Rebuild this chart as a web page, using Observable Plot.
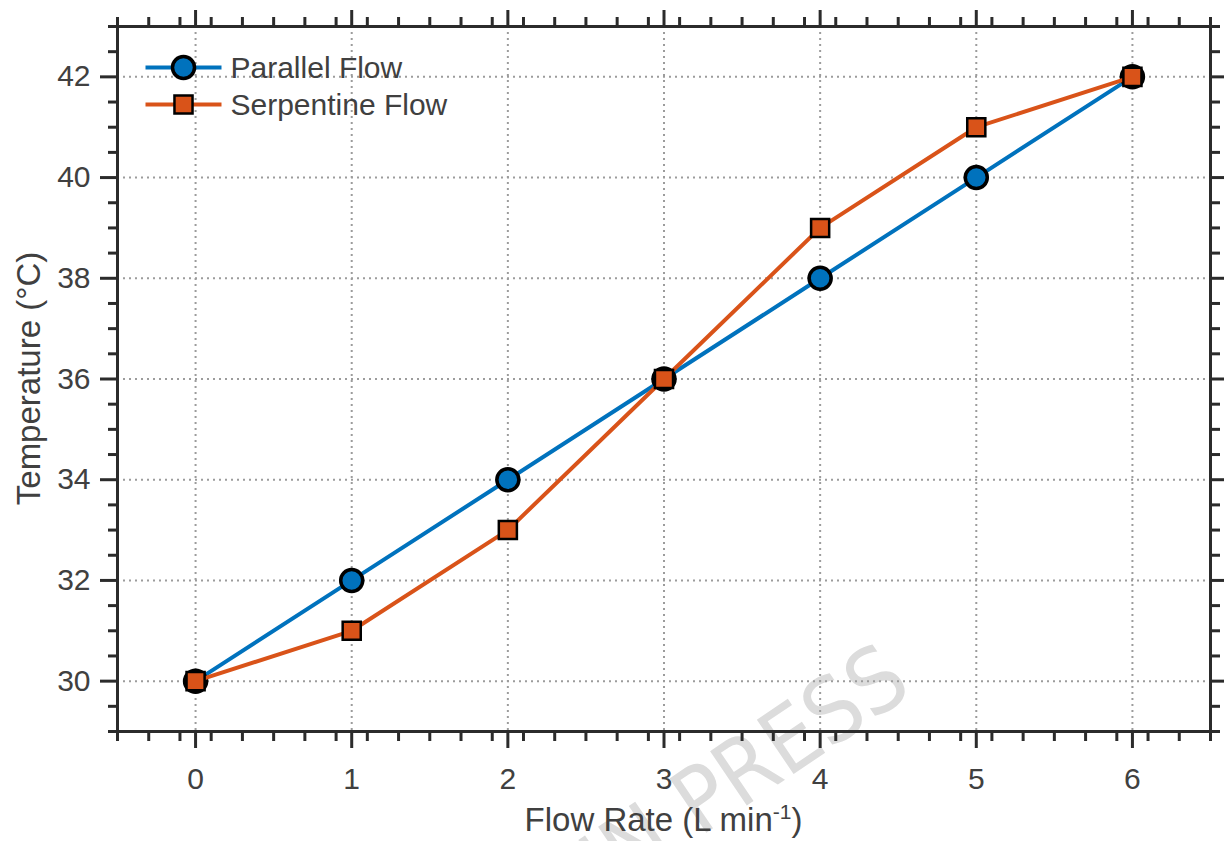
<!DOCTYPE html>
<html><head><meta charset="utf-8">
<script src="https://cdn.jsdelivr.net/npm/d3@7"></script>
<script src="https://cdn.jsdelivr.net/npm/@observablehq/plot@0.6"></script>
<style>body{margin:0;background:#fff;} #chart svg{display:block;}</style>
</head><body><div id="chart"></div>
<script>
// ---- data ----
const flowRate = [0, 1, 2, 3, 4, 5, 6];
const parallelFlow = [30, 32, 34, 36, 38, 40, 42];
const serpentineFlow = [30, 31, 33, 36, 39, 41, 42];
const seriesNames = ["Parallel Flow", "Serpentine Flow"];
const seriesColors = ["#0072BD", "#D95319"];
const seriesSymbols = ["circle", "square"];
const xTickValues = [0, 1, 2, 3, 4, 5, 6];
const yTickValues = [30, 32, 34, 36, 38, 40, 42];
const xLabelMain = "Flow Rate (L min";
const xLabelSup = "-1";
const xLabelEnd = ")";
const yLabel = "Temperature (°C)";
const watermarkText = "IN PRESS";

// minor ticks
const xMinor = d3.range(-5, 66, 2).map(d => d / 10).filter(d => Math.abs(d - Math.round(d)) > 1e-6);
const yMinor = d3.range(58, 87).map(d => d / 2).filter(d => d % 2 !== 0);

const FONT = "'Liberation Sans', Arial, sans-serif";
const INK = "#2b2b2b";
const TXT = "#404040";

const seriesData = [parallelFlow, serpentineFlow].map(vals => flowRate.map((x, i) => ({x, y: vals[i]})));

const lineSymbol = {draw(ctx) { ctx.moveTo(-38, 0); ctx.lineTo(38, 0); }};

const blank = () => "";
const intFmt = d => String(d);
const tickStyle = {stroke: INK, strokeWidth: 3, label: null};
const markerR = [11, 10.2];
const markerSW = [3.5, 2.5];

const marks = [
  Plot.text([watermarkText], {text: d => d, frameAnchor: "top-left", dx: 781, dy: 642, rotate: -34,
    textAnchor: "end", lineAnchor: "middle", fontSize: 90, fill: "#dcdcdc",
    fontFamily: "'Liberation Sans Narrow', 'DejaVu Sans Condensed', 'Liberation Sans', sans-serif"}),
  Plot.gridX(xTickValues, {stroke: "#9c9c9c", strokeOpacity: 1, strokeWidth: 2, strokeDasharray: "2,4"}),
  Plot.gridY(yTickValues, {stroke: "#9c9c9c", strokeOpacity: 1, strokeWidth: 2, strokeDasharray: "2,4"}),
  Plot.axisX(xTickValues, {anchor: "bottom", tickSize: 17, tickPadding: 19, tickFormat: intFmt, fontSize: 30, fill: TXT, ...tickStyle}),
  Plot.axisX(xMinor, {anchor: "bottom", tickSize: 10, tickFormat: blank, ...tickStyle}),
  Plot.axisX(xTickValues, {anchor: "top", tickSize: 17, tickFormat: blank, ...tickStyle}),
  Plot.axisX(xMinor, {anchor: "top", tickSize: 10, tickFormat: blank, ...tickStyle}),
  Plot.axisY(yTickValues, {anchor: "left", tickSize: 17, tickPadding: 10, tickFormat: intFmt, fontSize: 30, fill: TXT, ...tickStyle}),
  Plot.axisY(yMinor, {anchor: "left", tickSize: 9, tickFormat: blank, ...tickStyle}),
  Plot.axisY(yTickValues, {anchor: "right", tickSize: 17, tickFormat: blank, ...tickStyle}),
  Plot.axisY(yMinor, {anchor: "right", tickSize: 9, tickFormat: blank, ...tickStyle}),
  Plot.frame({stroke: INK, strokeWidth: 3})
];

seriesData.forEach((data, i) => {
  marks.push(Plot.line(data, {x: "x", y: "y", stroke: seriesColors[i], strokeWidth: 4}));
  marks.push(Plot.dot(data, {x: "x", y: "y", symbol: seriesSymbols[i], r: markerR[i],
    fill: seriesColors[i], stroke: "black", strokeWidth: markerSW[i]}));
});

// legend
seriesNames.forEach((name, i) => {
  const dy = 41 + i * 37;
  marks.push(Plot.dot([name], {frameAnchor: "top-left", dx: 66, dy, symbol: lineSymbol, r: 10,
    fill: "none", stroke: seriesColors[i], strokeWidth: 4}));
  marks.push(Plot.dot([name], {frameAnchor: "top-left", dx: 66, dy, symbol: seriesSymbols[i], r: markerR[i],
    fill: seriesColors[i], stroke: "black", strokeWidth: markerSW[i]}));
  marks.push(Plot.text([name], {text: d => d, frameAnchor: "top-left", dx: 113, dy: dy + 1,
    textAnchor: "start", lineAnchor: "middle", fontSize: 30, fill: TXT, fontFamily: FONT}));
});

const chart = Plot.plot({
  width: 1224, height: 841,
  marginLeft: 117, marginRight: 14, marginTop: 26, marginBottom: 110,
  x: {domain: [-0.5, 6.5]},
  y: {domain: [29, 43]},
  style: {fontFamily: FONT, fontSize: "30px", color: TXT, background: "white"},
  marks
});
document.getElementById("chart").appendChild(chart);

// axis titles (with superscript)
const svg = d3.select(chart);
const xr = chart.scale("x").range, yr = chart.scale("y").range;
const xt = svg.append("text")
  .attr("x", (xr[0] + xr[1]) / 2).attr("y", 831)
  .attr("text-anchor", "middle").attr("fill", TXT)
  .style("font-family", FONT).style("font-size", "33px");
xt.append("tspan").text(xLabelMain);
xt.append("tspan").attr("dy", -12).style("font-size", "21px").text(xLabelSup);
xt.append("tspan").attr("dy", 12).text(xLabelEnd);
svg.append("text")
  .attr("transform", `translate(40,${(yr[0] + yr[1]) / 2}) rotate(-90)`)
  .attr("text-anchor", "middle").attr("fill", TXT)
  .style("font-family", FONT).style("font-size", "33px")
  .text(yLabel);
</script>
</body></html>
